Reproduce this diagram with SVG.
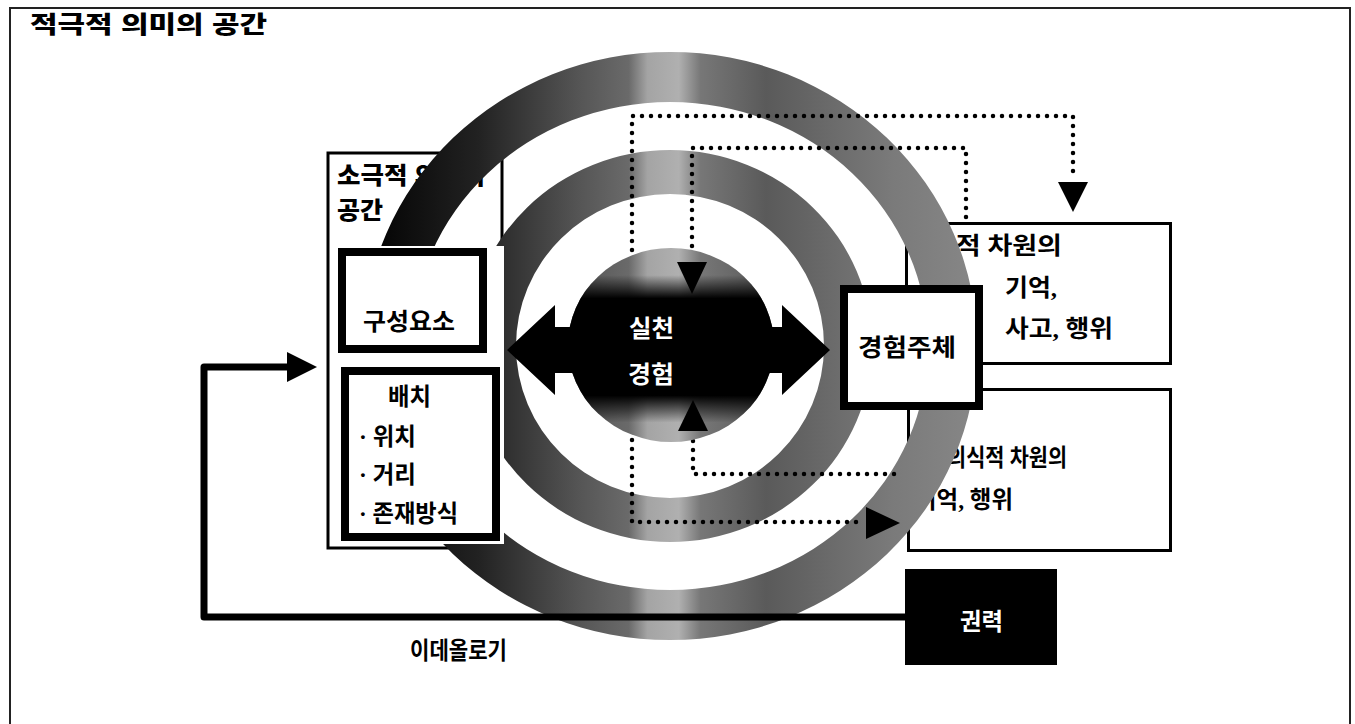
<svg xmlns="http://www.w3.org/2000/svg" width="1355" height="724" viewBox="0 0 1355 724">
<defs>
<style>
.frame{fill:#fff;stroke:#222;stroke-width:2}
.thin{fill:#fff;stroke:#000;stroke-width:3}
.thick{fill:#fff;stroke:#000;stroke-width:8}
.sans{font-family:'Liberation Sans','Noto Sans CJK KR',sans-serif;font-weight:900;fill:#000}
.ser{font-family:'Liberation Serif','Noto Sans CJK KR',serif;font-size:24px;font-weight:700;fill:#000}
.wht{fill:#fff}
.dot{fill:none;stroke:#000;stroke-width:4.5;stroke-dasharray:0 9;stroke-linecap:round}
.ring{fill:url(#shade);fill-rule:evenodd}
.line{fill:none;stroke:#000;stroke-width:7;stroke-linejoin:round}
</style>
<linearGradient id="shade" gradientUnits="userSpaceOnUse" x1="360" y1="0" x2="985" y2="0">
<stop offset="0" stop-color="#000"/>
<stop offset="0.19" stop-color="#222"/>
<stop offset="0.35" stop-color="#555"/>
<stop offset="0.43" stop-color="#6a6a6a"/>
<stop offset="0.46" stop-color="#a4a4a4"/>
<stop offset="0.51" stop-color="#b0b0b0"/>
<stop offset="0.545" stop-color="#777"/>
<stop offset="0.65" stop-color="#5a5a5a"/>
<stop offset="0.85" stop-color="#7a7a7a"/>
<stop offset="1" stop-color="#888"/>
</linearGradient>
<linearGradient id="band" x1="0" y1="0" x2="0" y2="1">
<stop offset="0" stop-color="#000" stop-opacity="0"/>
<stop offset="0.14" stop-color="#000" stop-opacity="0"/>
<stop offset="0.26" stop-color="#000" stop-opacity="1"/>
<stop offset="0.76" stop-color="#000" stop-opacity="1"/>
<stop offset="0.9" stop-color="#000" stop-opacity="0"/>
<stop offset="1" stop-color="#000" stop-opacity="0"/>
</linearGradient>
</defs>

<rect class="frame" x="10" y="8" width="1340" height="740"/>
<text class="sans" x="30" y="33" font-size="24" textLength="237" lengthAdjust="spacingAndGlyphs">적극적 의미의 공간</text>

<g id="passive-space">
<rect class="thin" x="328" y="153" width="174" height="395" stroke-width="2.5"/>
<text class="sans" x="337" y="184" font-size="24" textLength="148" lengthAdjust="spacingAndGlyphs">소극적 의미의</text>
<text class="sans" x="337" y="219" font-size="24" textLength="46" lengthAdjust="spacingAndGlyphs">공간</text>
</g>

<g id="conscious">
<rect class="thin" x="906.5" y="223.5" width="264" height="140"/>
<text class="ser" x="906" y="254" textLength="156" lengthAdjust="spacingAndGlyphs">의식적 차원의</text>
<text class="ser" x="1005" y="296" textLength="52" lengthAdjust="spacingAndGlyphs">기억,</text>
<text class="ser" x="1005" y="337" textLength="108" lengthAdjust="spacingAndGlyphs">사고, 행위</text>
</g>

<g id="unconscious">
<rect class="thin" x="908.5" y="389.5" width="262" height="161"/>
<text class="ser" x="928" y="466" textLength="139" lengthAdjust="spacingAndGlyphs">비의식적 차원의</text>
<text class="ser" x="915" y="508" textLength="98" lengthAdjust="spacingAndGlyphs">기억, 행위</text>
</g>

<g id="rings">
<path class="ring" d="M363,346 a307,294 0 1,0 614,0 a307,294 0 1,0 -614,0 Z M412,346 a258,244 0 1,0 516,0 a258,244 0 1,0 -516,0 Z"/>
<path class="ring" d="M468,346 a202,196 0 1,0 404,0 a202,196 0 1,0 -404,0 Z M516,346 a154,152 0 1,0 308,0 a154,152 0 1,0 -308,0 Z"/>
</g>

<g id="connectors">
<path class="dot" d="M632,250 V116 H1073 V180"/>
<path class="dot" d="M692,255 V148 H966 V219"/>
<path class="dot" d="M632,440 V522 H864"/>
<path class="dot" d="M693,432 V474 H903"/>
<polygon points="1058,182 1088,182 1073,212"/>
<polygon points="866,507 866,539 900,523"/>
</g>

<g id="core">
<ellipse cx="671" cy="345" rx="103" ry="97" fill="url(#shade)"/>
<ellipse cx="671" cy="345" rx="103" ry="97" fill="url(#band)"/>
<polygon points="677,262 707,262 692,294"/>
<polygon points="678,431 708,431 693,400"/>
<polygon points="507,350 555,305 555,327 782,327 782,305 830,350 782,395 782,373 555,373 555,395"/>
<text class="ser wht" x="629" y="337" font-weight="500" textLength="45" lengthAdjust="spacingAndGlyphs">실천</text>
<text class="ser wht" x="628" y="383" font-weight="500" textLength="46" lengthAdjust="spacingAndGlyphs">경험</text>
</g>

<rect x="336" y="246" width="168" height="298" fill="#fff"/>
<g id="elements">
<rect class="thick" x="342" y="252" width="141" height="97"/>
<text class="ser" x="363" y="330" font-size="25" textLength="92" lengthAdjust="spacingAndGlyphs">구성요소</text>
</g>

<g id="arrangement">
<rect class="thick" x="345" y="371" width="151" height="166"/>
<text class="ser" x="388" y="405" font-size="23" textLength="43" lengthAdjust="spacingAndGlyphs">배치</text>
<text class="ser" x="359" y="445" font-size="23" textLength="57" lengthAdjust="spacingAndGlyphs">· 위치</text>
<text class="ser" x="359" y="483" font-size="23" textLength="57" lengthAdjust="spacingAndGlyphs">· 거리</text>
<text class="ser" x="359" y="522" font-size="23" textLength="99" lengthAdjust="spacingAndGlyphs">· 존재방식</text>
</g>

<g id="subject">
<rect class="thick" x="844" y="289" width="135" height="117"/>
<text class="ser" x="858" y="356" textLength="98" lengthAdjust="spacingAndGlyphs">경험주체</text>
</g>

<g id="feedback">
<path class="line" d="M905,617 H204 V367 H290"/>
<polygon points="287,352 317,367 287,382"/>
<text class="ser" x="410" y="659" font-size="21" textLength="97" lengthAdjust="spacingAndGlyphs">이데올로기</text>
</g>

<g id="power">
<rect x="905" y="569" width="152" height="96" fill="#000"/>
<text class="ser wht" x="960" y="630" font-weight="500" textLength="43" lengthAdjust="spacingAndGlyphs">권력</text>
</g>
</svg>
